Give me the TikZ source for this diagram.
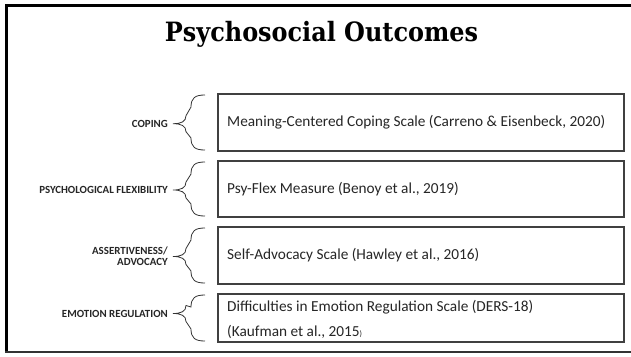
\documentclass[tikz,border=0pt]{standalone}
\usepackage{fontspec}
\usetikzlibrary{calc}
\setmainfont{Carlito}
\newfontfamily\titlefont{DejaVu Serif Condensed}
\begin{document}
\begin{tikzpicture}[x=1pt,y=-1pt,
  lbl/.style={font=\bfseries\fontsize{10.9}{12.5}\selectfont, align=right, anchor=east, inner sep=0pt, text=black!85},
  mbox/.style={draw=black!75, line width=1.1pt, minimum width=406pt, anchor=north west, inner sep=0pt, outer sep=0pt},
  btxt/.style={font=\fontsize{15.3}{18}\selectfont, anchor=west, inner sep=0pt, text=black!85, align=left},
  brace/.style={draw=black!80, line width=0.8pt}]
\clip (0,0) rectangle (631,356);
\fill[white] (0,0) rectangle (631,356);
% outer frame
\draw[line width=3pt] (6.5,352) -- (6.5,5.5) -- (640,5.5);
\draw[line width=2pt, black!80] (5,352) -- (640,352);
% title
\node[font=\titlefont\bfseries\fontsize{26.6}{30}\selectfont, inner sep=0pt, anchor=base] (title) at (321.5,41.5) {Psychosocial Outcomes};
% boxes
\node[mbox, minimum height=57pt] (b1) at (218,94) {};
\node[mbox, minimum height=56pt] (b2) at (218,161) {};
\node[mbox, minimum height=57pt] (b3) at (218,227) {};
\node[mbox, minimum height=48pt] (b4) at (218,294) {};
% box texts
\node[btxt] (t1) at (227,122.5) {Meaning-Centered Coping Scale (Carreno \& Eisenbeck, 2020)};
\node[btxt] (t2) at (227,189) {Psy-Flex Measure (Benoy et al., 2019)};
\node[btxt] (t3) at (227,255.5) {Self-Advocacy Scale (Hawley et al., 2016)};
\node[btxt] (t4a) at (227,307) {Difficulties in Emotion Regulation Scale (DERS-18)};
\node[btxt] (t4b) at (227,332) {(Kaufman et al., 2015{\fontsize{8}{9}\selectfont)}};
% labels
\node[lbl] (l1) at (168,123.7) {COPING};
\node[lbl] (l2) at (168,190) {PSYCHOLOGICAL FLEXIBILITY};
\node[lbl] (l3) at (168,256.5) {ASSERTIVENESS/\\[-1.5pt]ADVOCACY};
\node[lbl] (l4) at (168,313.5) {EMOTION REGULATION};
% braces
\foreach \b/\l in {b1/l1,b2/l2,b3/l3,b4/l4}{
  \path (\b.north west) ++(-13,1) coordinate (\b-t);
  \path (\b.south west) ++(-13,-1) coordinate (\b-b);
  \path (\l.east) ++(5,0) coordinate (\b-m);
  \draw[brace] (\b-t) .. controls ++(-10,0) and ++(0,-9) .. ($(\b-t)+(-14,12)$)
     -- ($(\b-m)+(13,-8)$) .. controls ++(0,6) and ++(8,0) .. (\b-m)
     .. controls ++(8,0) and ++(0,-6) .. ($(\b-m)+(13,8)$)
     -- ($(\b-b)+(-14,-12)$) .. controls ++(0,9) and ++(-10,0) .. (\b-b);
}
\end{tikzpicture}
\end{document}
